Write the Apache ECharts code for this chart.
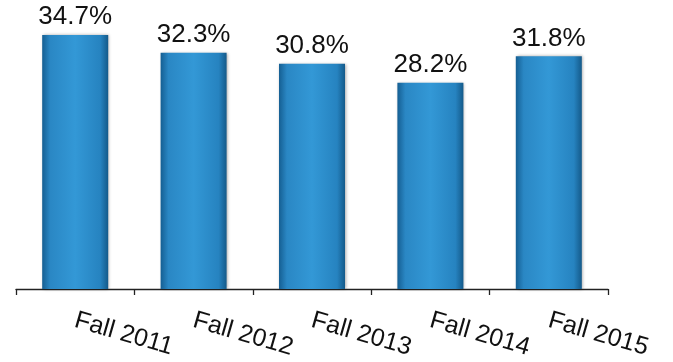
<!DOCTYPE html>
<html><head><meta charset="utf-8">
<script src="https://cdn.jsdelivr.net/npm/echarts@6/dist/echarts.min.js"></script>
<style>html,body{margin:0;padding:0;background:#fff}#c{width:673px;height:362px}</style>
</head><body><div id="c"></div>
<script>
const categories = ["Fall 2011","Fall 2012","Fall 2013","Fall 2014","Fall 2015"];
const values = [34.7, 32.3, 30.8, 28.2, 31.8];

const chart = echarts.init(document.getElementById('c'));
chart.setOption({
  animation: false,
  grid: {left: 16, right: 65, top: 0, bottom: 73},
  xAxis: {
    type: 'category', data: categories,
    axisLine: {lineStyle: {color: '#222', width: 1.3}},
    axisTick: {show: true, interval: 0, length: 6, inside: false, lineStyle: {color: '#222', width: 1.3}},
    axisLabel: {interval: 0, rotate: -16, margin: 31, fontFamily: 'Liberation Sans, Arial', fontSize: 25, color: '#111'}
  },
  yAxis: {type: 'value', min: 0, max: 39.5, show: false, splitLine: {show: false}},
  series: [{
    type: 'bar', data: values, barWidth: 66,
    itemStyle: {
      color: new echarts.graphic.LinearGradient(0, 0, 1, 0, [
        {offset: 0, color: '#155f93'},
        {offset: 0.12, color: '#2a87c4'},
        {offset: 0.5, color: '#3398d6'},
        {offset: 0.88, color: '#2683c0'},
        {offset: 1, color: '#145a8a'}
      ]),
      shadowColor: 'rgba(0,0,0,0.35)', shadowBlur: 3, shadowOffsetX: 1, shadowOffsetY: 0
    },
    label: {show: true, position: 'top', distance: 5, formatter: p => p.value.toFixed(1) + '%',
      fontFamily: 'Liberation Sans, Arial', fontSize: 26, color: '#111'}
  }]
});
</script></body></html>
